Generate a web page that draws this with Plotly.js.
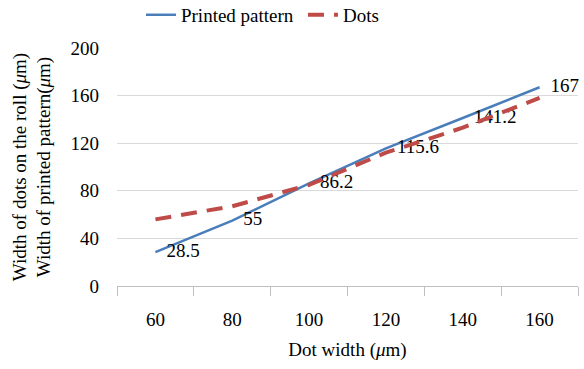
<!DOCTYPE html>
<html><head><meta charset="utf-8">
<script src="https://cdn.plot.ly/plotly-3.0.1.min.js"></script>
<style>body{margin:0;background:#fff}#chart{width:584px;height:369px}</style>
</head><body><div id="chart"></div>
<script>
var categories = ['60','80','100','120','140','160'];
var printedPattern = [28.5, 55, 86.2, 115.6, 141.2, 167];
var dots = [56, 67, 85, 112, 133, 158];
var yTicks = [0, 40, 80, 120, 160, 200];

var F = '"Liberation Serif", "Times New Roman", serif';
var traces = [
  {x: categories, y: printedPattern, name: 'Printed pattern', type: 'scatter', mode: 'lines+markers+text',
   line: {color: '#4a7ebb', width: 2.5}, marker: {size: 16, color: 'rgba(0,0,0,0)'},
   text: printedPattern.map(String), textposition: 'middle right', cliponaxis: false,
   textfont: {family: F, size: 19, color: '#000'}},
  {x: categories, y: dots, name: 'Dots', type: 'scatter', mode: 'lines',
   line: {color: '#be4b48', width: 4, dash: '16px,10px'}}
];
var layout = {
  width: 584, height: 369,
  margin: {l: 117, r: 6, t: 48, b: 83, autoexpand: false},
  paper_bgcolor: '#fff', plot_bgcolor: '#fff',
  font: {family: F, size: 19, color: '#000'},
  showlegend: true,
  legend: {orientation: 'h', x: 0.052, xanchor: 'left', y: 1.139, yanchor: 'middle',
           entrywidth: 117, entrywidthmode: 'pixels',
           font: {family: F, size: 19}, bgcolor: 'rgba(0,0,0,0)'},
  xaxis: {type: 'category', range: [-0.5, 5.5], tickson: 'boundaries', ticks: 'outside', ticklen: 9,
          tickcolor: '#bfbfbf', showgrid: false, showline: true, linecolor: '#bfbfbf', zeroline: false,
          ticklabelstandoff: 16, automargin: false,
          title: {text: 'Dot width (<i>μ</i>m)', font: {family: F, size: 19}, standoff: 13}},
  yaxis: {range: [0, 200], tickvals: yTicks, ticktext: yTicks.map(String), showgrid: true, gridcolor: '#d9d9d9',
          gridwidth: 1, zeroline: false, showline: false, ticks: '', ticklabelstandoff: 17, automargin: false,
          title: {text: 'Width of dots on the roll (<i>μ</i>m)<br>Width of printed pattern(<i>μ</i>m)',
                  font: {family: F, size: 19}, standoff: 14}}
};
Plotly.newPlot('chart', traces, layout, {displayModeBar: false, staticPlot: true});
</script></body></html>
